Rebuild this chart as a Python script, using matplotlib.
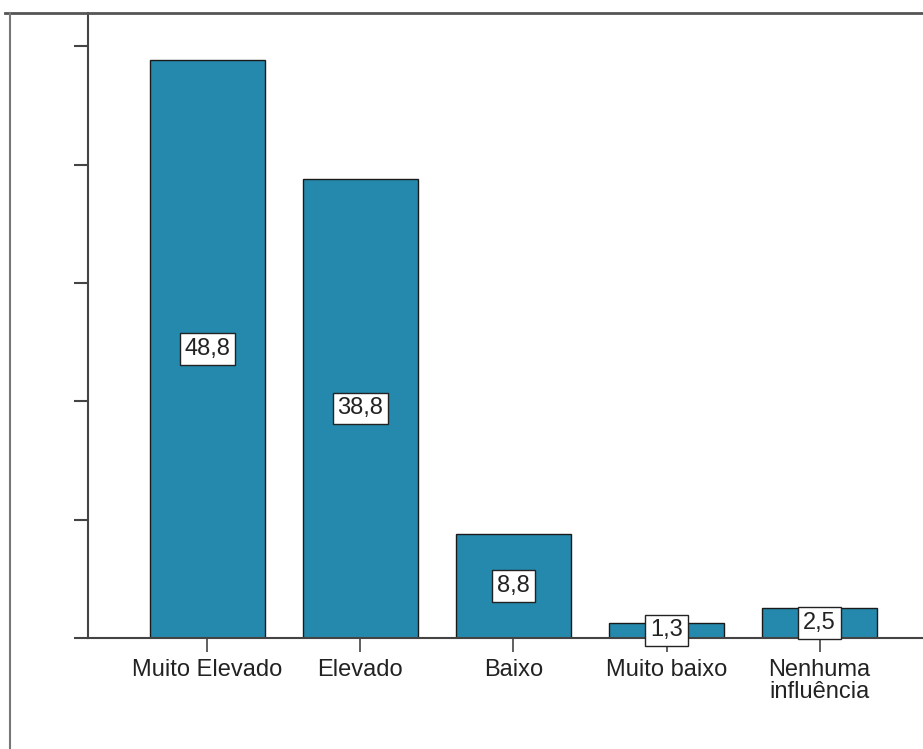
import matplotlib.pyplot as plt
from matplotlib.lines import Line2D

categorias = ["Muito Elevado", "Elevado", "Baixo", "Muito baixo", "Nenhuma\ninfluência"]
percentagens = [48.8, 38.8, 8.8, 1.3, 2.5]
rotulos = ["48,8", "38,8", "8,8", "1,3", "2,5"]

plt.rcParams['font.family'] = ['Liberation Sans', 'DejaVu Sans']

W, H = 923, 749
fig = plt.figure(figsize=(W / 100, H / 100), dpi=100)
fig.patch.set_facecolor('white')
ax = fig.add_axes([88 / W, (H - 638) / H, 1 - 88 / W, (638 - 13) / H])

x = list(range(len(categorias)))
ax.bar(x, percentagens, width=0.75, color='#2489AC', edgecolor='#1a1a1a', linewidth=1.0, zorder=2)

# valores no meio de cada barra
for xi, v, txt in zip(x, percentagens, rotulos):
    ax.text(xi, v / 2, txt, ha='center', va='center', fontsize=17, color='#222222', zorder=4,
            bbox=dict(boxstyle='square,pad=0.2', facecolor='white', edgecolor='#222222', linewidth=1.0))

ax.set_xlim(-0.78, 4.676)
ax.set_ylim(0, 52.8)
ax.set_yticks([0, 10, 20, 30, 40, 50])
ax.set_yticklabels([])
ax.set_xticks(x)
ax.set_xticklabels(categorias, fontsize=17, color='#222222', linespacing=1.0)
ax.tick_params(axis='y', direction='out', length=10, width=1.5, color='#444444')
ax.tick_params(axis='x', direction='out', length=10, width=1.2, color='#444444', pad=5)

for s in ['top', 'right']:
    ax.spines[s].set_visible(False)
for s in ['left', 'bottom']:
    ax.spines[s].set_color('#444444')
    ax.spines[s].set_linewidth(1.5)

# moldura exterior
fig.add_artist(Line2D([5 / W, 1.0], [(H - 13) / H, (H - 13) / H], color='#555555', linewidth=2.0))
fig.add_artist(Line2D([10 / W, 10 / W], [0, (H - 13) / H], color='#777777', linewidth=1.5))

fig.savefig('out.png', dpi=100, facecolor='white')
